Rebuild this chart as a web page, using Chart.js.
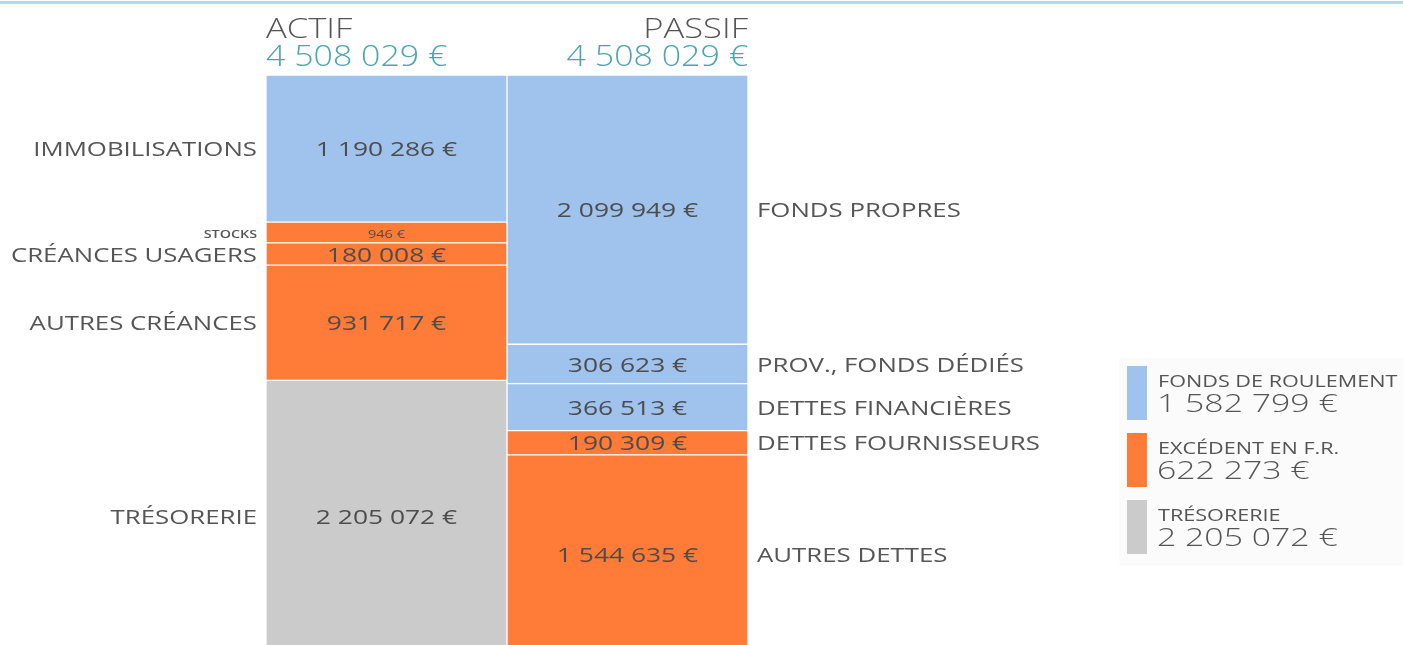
<!DOCTYPE html>
<html>
<head>
<meta charset="utf-8">
<script src="https://cdn.jsdelivr.net/npm/chart.js@4.4.1/dist/chart.umd.min.js"></script>
<style>
  html, body { margin: 0; padding: 0; overflow: hidden; background: #fff; }
</style>
</head>
<body>
<canvas id="bilan" width="1403" height="660"></canvas>
<script>
// columns
const columns = ['ACTIF', 'PASSIF']

// actif, bottom to top
const actifLabels = ['TRÉSORERIE', 'AUTRES CRÉANCES', 'CRÉANCES USAGERS', 'STOCKS', 'IMMOBILISATIONS']
const actifValues = [2205072, 931717, 180008, 946, 1190286]
const actifGroups = [2, 1, 1, 1, 0]

// passif, bottom to top
const passifLabels = ['AUTRES DETTES', 'DETTES FOURNISSEURS', 'DETTES FINANCIÈRES', 'PROV., FONDS DÉDIÉS', 'FONDS PROPRES']
const passifValues = [1544635, 190309, 366513, 306623, 2099949]
const passifGroups = [1, 1, 0, 0, 0]

// legend
const legendLabels = ['FONDS DE ROULEMENT', 'EXCÉDENT EN F.R.', 'TRÉSORERIE']
const legendValues = [1582799, 622273, 2205072]

const groupColors = ['#a0c3ee', '#fe7b38', '#cbcbcb']
const textGrey = '#555555'
const teal = '#4ba4ae'
const font = "'Open Sans', sans-serif"

function fmt(v) {
  return v.toString().replace(/\B(?=(\d{3})+(?!\d))/g, ' ') + ' €'
}
const sum = arr => arr.reduce((a, b) => a + b, 0)
const actifTotal = sum(actifValues)
const passifTotal = sum(passifValues)

// very small segments get a minimum visible height (like the original)
const minShare = 0.037
function shown(v, total) { return Math.max(v, total * minShare) }

var datasets = []
actifValues.forEach((v, i) => {
  datasets.push({
    label: actifLabels[i], data: [shown(v, actifTotal), null], real: v, side: 0,
    backgroundColor: groupColors[actifGroups[i]], yAxisID: 'yA'
  })
})
passifValues.forEach((v, i) => {
  datasets.push({
    label: passifLabels[i], data: [null, shown(v, passifTotal)], real: v, side: 1,
    backgroundColor: groupColors[passifGroups[i]], yAxisID: 'yP'
  })
})

// the original lettering is stretched sideways
function wide(c, text, x, y, align, sx) {
  c.save()
  c.translate(x, y)
  c.scale(sx, 1)
  c.textAlign = align
  c.fillText(text, 0, 0)
  c.restore()
}

const labelsPlugin = {
  id: 'bilanLabels',
  afterDatasetsDraw(chart) {
    const c = chart.ctx
    const area = chart.chartArea
    c.save()
    // top rule
    c.fillStyle = '#a7e1ea'
    c.fillRect(0, 1, chart.width, 3)

    // column headers
    c.textBaseline = 'alphabetic'
    c.font = '300 27px ' + font
    c.fillStyle = textGrey
    wide(c, columns[0], area.left, 38, 'left', 1.28)
    wide(c, columns[1], area.right, 38, 'right', 1.28)
    c.font = '300 29px ' + font
    c.fillStyle = teal
    wide(c, fmt(actifTotal), area.left, 66, 'left', 1.17)
    wide(c, fmt(passifTotal), area.right, 66, 'right', 1.17)

    // segment values and names
    c.textBaseline = 'middle'
    chart.data.datasets.forEach((ds, i) => {
      const bar = chart.getDatasetMeta(i).data[ds.side]
      const cy = (bar.y + bar.base) / 2
      const small = ds.real < 10000
      c.fillStyle = '#4d4d4d'
      c.font = small ? '11px ' + font : '20px ' + font
      wide(c, fmt(ds.real), bar.x, cy + 2, 'center', 1.32)
      c.fillStyle = textGrey
      c.font = small ? '600 11px ' + font : '20px ' + font
      if (ds.side === 0) {
        wide(c, ds.label, bar.x - bar.width / 2 - 9, cy + 2, 'right', small ? 1.3 : 1.29)
      } else {
        wide(c, ds.label, bar.x + bar.width / 2 + 9, cy + 2, 'left', 1.29)
      }
    })

    // legend
    c.fillStyle = '#fbfbfb'
    c.fillRect(1119, 358, 284, 208)
    legendLabels.forEach((lab, i) => {
      const top = 366 + i * 67
      c.fillStyle = groupColors[i]
      c.fillRect(1127, top, 20, 54)
      c.fillStyle = textGrey
      c.textBaseline = 'alphabetic'
      c.font = '16px ' + font
      wide(c, lab, 1158, top + 21, 'left', 1.35)
      c.font = '300 26px ' + font
      wide(c, fmt(legendValues[i]), 1157, top + 46, 'left', 1.3)
    })
    c.restore()
  }
}

const ctx = document.getElementById('bilan')
var chart = new Chart(ctx, {
  type: 'bar',
  data: { labels: columns, datasets: datasets },
  options: {
    responsive: false,
    animation: false,
    layout: { padding: { left: 266, right: 655, top: 75, bottom: 7 } },
    datasets: {
      bar: {
        categoryPercentage: 1, barPercentage: 1,
        borderColor: '#ffffff', borderWidth: 1, borderSkipped: false
      }
    },
    scales: {
      x: { stacked: true, display: false },
      yA: { stacked: true, display: false, min: 0, max: sum(datasets.filter(d => d.side === 0).map(d => d.data[0])) },
      yP: { stacked: true, display: false, min: 0, max: sum(datasets.filter(d => d.side === 1).map(d => d.data[1])) }
    },
    plugins: { legend: { display: false }, tooltip: { enabled: false } }
  },
  plugins: [labelsPlugin]
})
</script>
</body>
</html>
